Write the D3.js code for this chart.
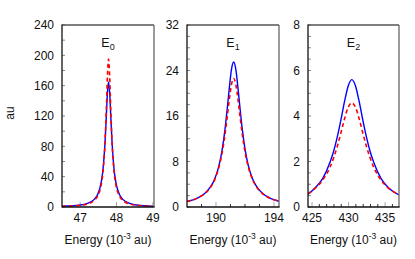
<!DOCTYPE html>
<html><head><meta charset="utf-8">
<script src="https://cdn.jsdelivr.net/npm/d3@7"></script>
<style>body{margin:0;background:#fff}svg{display:block}text{font-family:"Liberation Sans",Arial,sans-serif;fill:#111}</style>
</head><body>
<svg id="c" width="415" height="259"></svg>
<script>
// ---- data ----
const titles = ["E", "E", "E"];
const subs = ["0", "1", "2"];
const xDomains = [[46.5, 49.03], [188, 194.35], [424.45, 436.9]];
const yDomains = [[0, 240], [0, 32], [0, 8]];
const xTickLabels = [[47, 48, 49], [190, 194], [425, 430, 435]];
const xMinorTicks = [[47, 48, 49], [189, 190, 191, 192, 193, 194], [425,426,427,428,429,430,431,432,433,434,435,436]];
const yTickLabels = [[0, 40, 80, 120, 160, 200, 240], [0, 8, 16, 24, 32], [0, 2, 4, 6, 8]];
const yMinorStep = [20, 2, 0.5];

const x0 = [46.5, 46.78, 46.98, 47.18, 47.38, 47.48, 47.58, 47.63, 47.68, 47.72, 47.75, 47.78, 47.81, 47.84, 47.88, 47.93, 47.98, 48.08, 48.18, 48.38, 48.58, 48.78, 49.0];
const blue0 = [1.0, 1.6, 2.5, 4.5, 9.7, 16.5, 33, 50.8, 82.5, 121, 151, 165, 151, 121, 82.5, 50.8, 33, 16.5, 9.7, 4.5, 2.5, 1.6, 1.1];
const red0 = [0.86, 1.4, 2.2, 3.8, 8.4, 14.5, 29.8, 47.4, 81.8, 130, 173, 195, 173, 130, 81.8, 47.4, 29.8, 14.5, 8.4, 3.8, 2.2, 1.4, 0.95];

const x1 = [188.0, 188.72, 189.22, 189.62, 189.92, 190.22, 190.42, 190.62, 190.77, 190.92, 191.07, 191.22, 191.37, 191.52, 191.67, 191.82, 192.02, 192.22, 192.52, 192.82, 193.22, 193.72, 194.35];
const blue1 = [0.97, 1.57, 2.37, 3.52, 4.97, 7.41, 9.95, 13.6, 17.1, 20.9, 24.2, 25.5, 24.2, 20.9, 17.1, 13.6, 9.95, 7.41, 4.97, 3.52, 2.37, 1.57, 1.02];
const red1 = [0.96, 1.56, 2.34, 3.46, 4.86, 7.15, 9.48, 12.7, 15.7, 18.9, 21.55, 22.6, 21.55, 18.9, 15.7, 12.7, 9.48, 7.15, 4.86, 3.46, 2.34, 1.56, 1.02];

const x2 = [424.45, 425.45, 426.45, 427.45, 427.95, 428.45, 428.95, 429.45, 429.95, 430.45, 430.95, 431.45, 431.95, 432.45, 432.95, 433.45, 434.45, 435.45, 436.9];
const blue2 = [0.56, 0.85, 1.25, 1.96, 2.44, 3.07, 3.82, 4.64, 5.32, 5.6, 5.32, 4.64, 3.82, 3.07, 2.44, 1.96, 1.25, 0.85, 0.53];
const red2 = [0.58, 0.83, 1.18, 1.74, 2.15, 2.66, 3.25, 3.88, 4.38, 4.58, 4.38, 3.88, 3.25, 2.66, 2.15, 1.74, 1.18, 0.83, 0.55];

const xs = [x0, x1, x2], blues = [blue0, blue1, blue2], reds = [red0, red1, red2];
const xLabel = "Energy (10", xSup = "-3", xLabelEnd = " au)";
const yLabel = "au";

// ---- layout ----
const panels = [{l: 62, r: 154}, {l: 187, r: 279}, {l: 308, r: 399}];
const plotTop = 25, plotBottom = 207;
const svg = d3.select("#c");

svg.append("text").attr("transform", "translate(14,113) rotate(-90)")
  .attr("text-anchor", "middle").attr("font-size", 12).text(yLabel);

panels.forEach((p, i) => {
  const x = d3.scaleLinear().domain(xDomains[i]).range([p.l, p.r]);
  const y = d3.scaleLinear().domain(yDomains[i]).range([plotBottom, plotTop]);
  const g = svg.append("g");

  const ymin = d3.range(yDomains[i][0], yDomains[i][1] + 1e-9, yMinorStep[i]);
  g.selectAll(".ym").data(ymin).join("line")
    .attr("x1", p.l).attr("x2", p.l + 3).attr("y1", d => y(d)).attr("y2", d => y(d))
    .attr("stroke", "#888").attr("stroke-width", 1);
  g.selectAll(".xm").data(xMinorTicks[i]).join("line")
    .attr("x1", d => x(d)).attr("x2", d => x(d))
    .attr("y1", plotBottom).attr("y2", d => xTickLabels[i].includes(d) ? plotBottom - 5 : plotBottom - 3)
    .attr("stroke", d => xTickLabels[i].includes(d) ? "#aaa" : "#333").attr("stroke-width", 1);

  const line = d3.line().x(d => x(d[0])).y(d => y(d[1])).curve(d3.curveMonotoneX);
  const clipId = "clip" + i;
  svg.append("clipPath").attr("id", clipId).append("rect")
    .attr("x", p.l).attr("y", plotTop).attr("width", p.r - p.l).attr("height", plotBottom - plotTop);
  const cg = g.append("g").attr("clip-path", `url(#${clipId})`);
  cg.append("path").datum(d3.zip(xs[i], blues[i])).attr("d", line)
    .attr("fill", "none").attr("stroke", "#0000ff").attr("stroke-width", 1.4);
  cg.append("path").datum(d3.zip(xs[i], reds[i])).attr("d", line)
    .attr("fill", "none").attr("stroke", "#ff0000").attr("stroke-width", 1.6)
    .attr("stroke-dasharray", "4,3");

  g.append("line").attr("x1", p.l).attr("x2", p.r).attr("y1", plotTop).attr("y2", plotTop).attr("stroke", "#555").attr("stroke-width", 1.3);
  g.append("line").attr("x1", p.r).attr("x2", p.r).attr("y1", plotTop).attr("y2", plotBottom).attr("stroke", "#666").attr("stroke-width", 1.3);
  g.append("line").attr("x1", p.l).attr("x2", p.l).attr("y1", plotTop - 0.6).attr("y2", plotBottom + 0.6).attr("stroke", "#111").attr("stroke-width", 1.3);
  g.append("line").attr("x1", p.l).attr("x2", p.r + 0.6).attr("y1", plotBottom).attr("y2", plotBottom).attr("stroke", "#111").attr("stroke-width", 1.3);

  g.selectAll(".yl").data(yTickLabels[i]).join("text")
    .attr("x", p.l - 8).attr("y", d => y(d)).attr("dy", "0.35em")
    .attr("text-anchor", "end").attr("font-size", 12).text(d => d);
  g.selectAll(".xl").data(xTickLabels[i]).join("text")
    .attr("x", d => x(d)).attr("y", 222)
    .attr("text-anchor", "middle").attr("font-size", 12).text(d => d);

  const t = g.append("text").attr("x", (p.l + p.r) / 2).attr("y", 244)
    .attr("text-anchor", "middle").attr("font-size", 12);
  t.append("tspan").text(xLabel);
  t.append("tspan").attr("dy", -5).attr("font-size", 8.5).text(xSup);
  t.append("tspan").attr("dy", 5).text(xLabelEnd);

  const tt = g.append("text").attr("x", (p.l + p.r) / 2).attr("y", 47)
    .attr("text-anchor", "middle").attr("font-size", 12.5);
  tt.append("tspan").text(titles[i]);
  tt.append("tspan").attr("dy", 3).attr("font-size", 9).text(subs[i]);
});
</script>
</body></html>
